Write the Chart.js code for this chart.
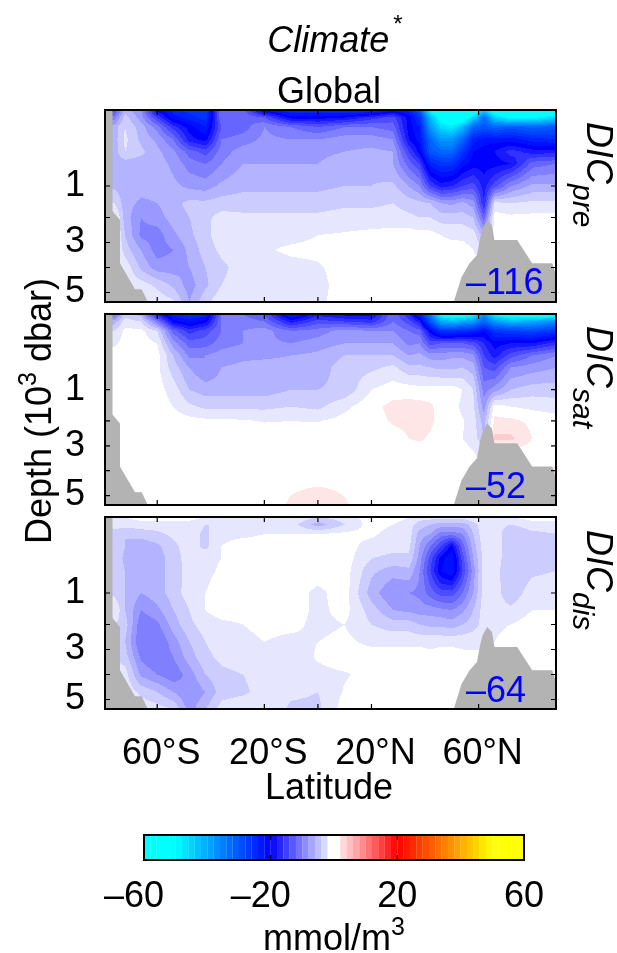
<!DOCTYPE html>
<html><head><meta charset="utf-8">
<script src="https://cdn.jsdelivr.net/npm/chart.js@4"></script>
<style>
html,body{margin:0;padding:0;background:#fff;width:617px;height:953px;overflow:hidden}
canvas{position:absolute;left:0;top:0}
.t{position:absolute;white-space:nowrap;font-family:"Liberation Sans",Arial,sans-serif;color:#000;line-height:1}
.t sup,.t sub{line-height:0}
</style></head><body>
<canvas id="c1" width="617" height="953"></canvas>
<canvas id="c2" width="617" height="953"></canvas>
<canvas id="c3" width="617" height="953"></canvas>
<canvas id="c4" width="617" height="953"></canvas>
<script>
const latitudes=[-76,-72,-66,-60,-54,-48,-42,-36,-28,-20,-10,0,10,20,28,34,38,42,46,50,54,58,62,66,72,80,89];
const depths=[0,.01,.05,.15,.3,.5,1,1.5,2,2.7,3.3,4,4.7,5.4];
const xTickLabels=[[-60,"60°S"],[-20,"20°S"],[20,"20°N"],[60,"60°N"]];
const xTickMarks=[-60,-20,0,20,60];
const depthTickLabels=[1,3,5];
const depthTickMarks=[1,2,3,4,5];
const dicPre=[
[-14,-6,-9,-20,-24,-26,-27,-11,-12,-22,-25,-25,-26,-26,-22,-24,-30,-50,-58,-60,-60,-58,-45,-55,-60,-60,-58],
[-10,-4,-8,-15,-22,-24,-26,-11,-11,-13,-20,-20,-19,-16,-14,-20,-26,-42,-52,-56,-55,-45,-32,-45,-50,-50,-45],
[-6,-3,-6,-10,-16,-20,-23,-13,-12,-9,-11,-13,-11,-11,-12,-20,-23,-38,-46,-48,-42,-32,-30,-32,-30,-32,-30],
[-6,-2.5,-5.5,-7.5,-11,-18,-20,-11,-10,-8.5,-9,-9,-8,-8,-9,-19,-22,-32,-38,-38,-32,-24,-22,-22,-22,-24,-25],
[-6,-3,-4.5,-6.5,-8.5,-12,-14,-10,-8,-8,-8,-7.5,-7,-6.5,-7,-15,-20,-30,-32,-32,-26,-21,-20,-19,-16,-18,-18],
[-6,-6,-6,-6,-7.5,-10,-11,-9,-7,-7,-7,-7,-6,-5.5,-7,-12,-15,-24,-26,-26,-22,-20,-20,-20,-19,-12,-11],
[-5.5,-6,-6,-6,-6.5,-7.5,-8,-6.5,-5.5,-5.5,-5.5,-5.5,-5,-5,-4.5,-7,-9,-15,-18,-17,-15,-14,-18,-14,-9,-6.5,-6.5],
[-3,-6,-7.5,-7,-5.5,-4.5,-4.5,-4,-4,-4,-4,-4,-3.5,-3.5,-3,-4,-4.5,-5,-7,-7.5,-6.5,-8,-17,-2.5,-3,-2.5,-2.5],
[0,-6,-9,-8,-6,-5,-3.5,-2.2,-2.5,-2.5,-2.5,-2.5,-2,-2,-2,-2.5,-3,-3,-4,-4,-4,-5,-12,0,-.5,-.4,-.4],
[0,-5,-9.5,-10,-7.5,-5.5,-3.5,-2,-2,-1.5,-1.5,-1,-.8,-.5,-.3,0,-.3,-.3,-1,-1.5,-1.5,-2,-6,0,0,0,0],
[0,-4,-7,-10,-9,-6.5,-4,-2.5,-2,-1.2,-.7,-.6,0,0,0,0,0,0,0,0,-.2,-1,-3,0,0,0,0],
[0,-1.5,-5.5,-8,-8,-7,-5,-3.5,-2,-1.8,-1.5,-1.2,-.3,0,0,0,0,0,0,0,0,0,0,0,0,0,0],
[0,-1.5,-2,-3.5,-5.5,-8,-5.5,-3,-2,-1.8,-1.5,-1.5,-.3,0,0,0,0,0,0,0,0,0,0,0,0,0,0],
[0,-1,-1.5,-1.5,-2.5,-7,-3.5,-1.5,-1,-1.3,-1.2,-1.5,0,0,0,0,0,0,0,0,0,0,0,0,0,0,0]];
const dicSat=[
[-12,-4,-6,-18,-24,-26,-24,-11,-11,-13,-24,-18,-20,-20,-11,-17,-24,-35,-52,-55,-55,-50,-36,-50,-55,-55,-55],
[-6,-2,-3,-10,-20,-22,-20,-11,-10,-11,-18,-14,-15,-16,-11,-14,-18,-30,-40,-42,-40,-38,-32,-38,-42,-40,-36],
[-3,-.5,-.5,-3,-12,-16,-14,-11,-9,-8,-11,-10,-8,-9,-9,-11,-12,-20,-26,-26,-25,-24,-21,-26,-27,-28,-26],
[-1.5,0,0,-1,-8,-12,-12,-10,-9,-8.5,-9,-8,-7,-7,-7,-9.5,-9,-14,-13,-13,-13,-14,-17,-20,-19,-19,-16],
[0,0,0,-.2,-5,-9.5,-9,-8,-7.5,-7.5,-7,-6.5,-5,-5,-5,-7,-6.5,-8,-8,-7.5,-7.5,-8.5,-15,-18,-14,-11,-9],
[0,0,0,-.5,-4,-7,-9,-7,-6.5,-6,-6,-6,-4,-3.5,-2.5,-4.5,-4.5,-5,-5.5,-5.5,-5,-6,-13,-14,-9,-8,-7],
[0,0,0,0,-2,-5,-6,-6,-6,-6,-5,-5,-4.5,-1,0,0,-.3,-.3,0,0,-1,-3,-10,-8,-5,-4,-4],
[0,0,0,0,-1,-2.5,-3.5,-3.5,-3.5,-3.5,-3,-3.5,-1.5,.4,1.6,1.8,1.8,1.4,0,0,-1.5,-2.5,-8,0,-1,-1.5,-2],
[0,0,0,0,0,-.3,-.5,-.5,-.8,-1.1,-1,-1.1,-.3,0,1.3,1.6,1.8,1.4,.2,0,-.8,-2,-6,1.5,1.5,.5,0],
[0,0,0,0,0,0,0,0,0,0,0,0,0,0,0,1,1.3,.7,0,0,-1,-1.8,-5,3.5,3.5,1,0],
[0,0,0,0,0,0,0,0,0,0,0,0,0,0,0,0,0,0,0,0,-.2,-.8,-2,0,0,0,0],
[0,0,0,0,0,0,0,0,0,0,0,0,0,0,0,0,0,0,0,0,0,0,0,0,0,0,1.5],
[0,0,0,0,0,0,0,0,0,0,.8,1.1,.8,0,0,0,0,0,0,0,0,0,0,0,0,0,0],
[0,0,0,0,0,0,0,0,0,0,1.3,2,1.2,0,0,0,0,0,0,0,0,0,0,0,0,0,0]];
const dicDis=[
[-1,-1,0,0,0,0,-1,-1,-1,-1,-1,-3,-2,0,0,-1,-2,-2,-2,-2,-2,-1,-1,-1,-1,0,0],
[-2,-2,-2,-2,-2,-2,-3,-3,-2,-2,-2,-6,-3,0,-1,-2,-4,-5,-6,-6,-6,-4,-1.5,-2,-3,-2,-2],
[-4,-5,-4,-3.5,-2.5,-2,-3.5,-1.5,-1.5,-1,-1,-1,-.5,-.5,-2,-2,-6,-7,-10,-10,-9,-5,-1.5,-1.5,-5,-3.5,-3],
[-3.5,-5,-6.5,-5.5,-3.5,-2,-3.5,-1,0,0,0,0,0,-2,-2.5,-2.5,-7,-11,-15,-20,-12,-6,-2,-1.5,-5,-3.5,-3.5],
[-3.5,-5.5,-7,-6,-4,-2,-1.5,-1,0,0,0,0,0,-3,-3.5,-3.5,-8,-14,-20,-23,-14,-7,-2,-1.5,-5,-4,-3.5],
[-3.5,-5,-7,-6,-4,-2.2,-1.5,-.7,0,0,0,0,0,-4.5,-6,-5.5,-9,-15,-21,-23,-15,-8,-2,-2,-5,-3.5,-3],
[-3.5,-5,-7,-6,-4,-2,-1,0,0,0,0,-1.5,0,-6,-9,-9,-9.5,-12,-14,-14,-11,-7,-2,-2,-4.5,-1.8,-1.5],
[-1,-5,-9,-7.5,-5,-3,-1,0,0,0,0,-1.5,-.3,-4,-7,-7.5,-8,-8,-8.5,-9,-7.5,-5,-2,-2,-2.5,-1,-1],
[-3,-4,-10.5,-9.5,-6,-3.5,-2,-1.5,-1,-.5,-.5,-1.5,-1,-3,-4,-4,-5,-5.5,-5.5,-6,-5,-4,-2,-1.5,-1,0,0],
[-3,-5,-11,-11,-8,-5,-3,-2,-1.5,-1,-1.5,-1,-.5,-1.5,-1.5,-1.5,-1.5,-1.5,-1.5,-1.5,-1.5,-1.5,-1.5,-1,0,0,0],
[-3,-4,-9.5,-11,-9,-6,-3.5,-2.5,-2,-1.5,-2,-.8,0,0,0,0,0,-.5,0,0,-.5,-.5,-.5,0,0,0,0],
[-2,-2,-7.5,-9,-10.5,-8,-5,-3.5,-3,-2,-2,-1.5,-1.2,-.3,0,0,0,0,0,0,0,0,0,0,0,0,0],
[-1.5,-1.5,-3.5,-5,-7,-9,-7,-4,-3.5,-2,-2.5,-3,-.8,0,0,0,0,0,0,0,0,0,0,0,0,0,0],
[-1,-1,-1.5,-2,-3,-8,-5,-2,-1,-1,-3.5,-3.5,0,0,0,0,0,0,0,0,0,0,0,0,0,0,0]];
const southFloorLat=[-79.5,-76.7,-76.7,-73.9,-73.9,-68.3,-65.8,-63.5];
const southFloorDepth=[0,0,1.77,2.1,3.83,4.87,4.87,5.38];
const northFloorLat=[50.7,53.6,56.5,59.4,60.6,61.5,63.2,65,65.9,74.4,80,87.5,88.9];
const northFloorDepth=[5.38,4.39,3.85,3.5,2.8,2.43,2.1,2.3,2.9,2.9,3.83,3.83,4.3];
const colorbarLevels=[-59,-57,-55,-53,-51,-49,-47,-45,-43,-41,-39,-37,-35,-33,-31,-29,-27,-25,-23,-21,-19,-17,-15,-13,-11,-9,-7,-5,-3,-1,1,3,5,7,9,11,13,15,17,19,21,23,25,27,29,31,33,35,37,39,41,43,45,47,49,51,53,55,57,59];
const colorbarFill=colorbarLevels.map(()=>1);
const colorbarTicks=[[-60,"–60\u00a0\u00a0"],[-20,"–20\u00a0\u00a0"],[20,"20"],[60,"60"]];
const colorbarMarks=[-20,20];

const FONT='"Liberation Sans",Arial,sans-serif';
const GREY='#b3b3b3';
function T(d){return d<=2?Math.sqrt(d):Math.SQRT2+.329*(d-2);}
function cmapRGB(v){
  if(Math.abs(v)<=1.2) return [255,255,255];
  if(v<=-50) return [0,255,255];
  if(v<=-20){return [0,Math.round(255*(-v-20)/30),255];}
  if(v<0){const c=Math.round(255*(1+v/20));return [c,c,255];}
  if(v<=20){const c=Math.round(255*(1-v/20));return [255,c,c];}
  if(v<50){return [255,Math.round(255*(v-20)/30),0];}
  return [255,255,0];
}
const heatPlugin={id:'heat',beforeDatasetsDraw(chart){
  const pts=chart.data.datasets[0].data,xs=chart.scales.x,ys=chart.scales.y,a=chart.chartArea;
  const nc=latitudes.length,nr=depths.length;
  const cp=latitudes.map(l=>xs.getPixelForValue(l)),rp=depths.map(d=>ys.getPixelForValue(T(d)));
  const W=Math.round(a.right-a.left),H=Math.round(a.bottom-a.top);
  const off=document.createElement('canvas');off.width=W;off.height=H;
  const g=off.getContext('2d'),im=g.createImageData(W,H);
  let ci=[],cf=[];
  for(let i=0;i<W;i++){const p=a.left+i+.5;let k=0;while(k<nc-2&&cp[k+1]<p)k++;
    ci[i]=k;cf[i]=Math.min(1,Math.max(0,(p-cp[k])/(cp[k+1]-cp[k])));}
  for(let j=0;j<H;j++){const p=a.top+j+.5;let r=0;while(r<nr-2&&rp[r+1]<p)r++;
    const rf=Math.min(1,Math.max(0,(p-rp[r])/(rp[r+1]-rp[r])));
    for(let i=0;i<W;i++){const k=ci[i],f=cf[i];
      const v=(1-rf)*((1-f)*pts[r*nc+k].v+f*pts[r*nc+k+1].v)+rf*((1-f)*pts[(r+1)*nc+k].v+f*pts[(r+1)*nc+k+1].v);
      const c=cmapRGB(Math.round(v/2)*2),o=(j*W+i)*4;
      im.data[o]=c[0];im.data[o+1]=c[1];im.data[o+2]=c[2];im.data[o+3]=255;}}
  g.putImageData(im,0,0);
  const ctx=chart.ctx;ctx.save();ctx.beginPath();ctx.rect(a.left,a.top,W,H);ctx.clip();
  ctx.filter='blur(0.7px)';ctx.drawImage(off,a.left,a.top);ctx.restore();
}};
const framePlugin={id:'frame',afterDraw(chart,args,o){
  const ctx=chart.ctx,a=chart.chartArea,xs=chart.scales.x,ys=chart.scales.y;
  ctx.save();ctx.strokeStyle='#000';ctx.lineWidth=2;
  ctx.strokeRect(a.left,a.top,a.right-a.left,a.bottom-a.top);
  ctx.lineWidth=1.2;ctx.beginPath();
  (o.xMarks||[]).forEach(v=>{const p=xs.getPixelForValue(v);ctx.moveTo(p,a.top);ctx.lineTo(p,a.top+5);ctx.moveTo(p,a.bottom);ctx.lineTo(p,a.bottom-5);});
  (o.yMarks||[]).forEach(d=>{const p=ys.getPixelForValue(T(d));ctx.moveTo(a.left,p);ctx.lineTo(a.left+5,p);ctx.moveTo(a.right,p);ctx.lineTo(a.right-5,p);});
  ctx.stroke();ctx.restore();
}};
function panel(id,values,top,bottom,showX){
  const grid=[];values.forEach((row,r)=>row.forEach((v,c)=>grid.push({x:latitudes[c],y:T(depths[r]),v})));
  const floor=(la,de)=>la.map((l,i)=>({x:l,y:T(de[i])}));
  const base={type:'line',showLine:true,pointRadius:0,borderWidth:0,borderColor:GREY,backgroundColor:GREY,fill:'start',tension:0};
  new Chart(document.getElementById(id),{type:'scatter',
    data:{datasets:[{label:'field',data:grid,pointRadius:0,showLine:false},
      {...base,label:'south floor',data:floor(southFloorLat,southFloorDepth)},
      {...base,label:'north floor',data:floor(northFloorLat,northFloorDepth)}]},
    options:{responsive:false,animation:false,events:[],
      layout:{padding:{left:0,right:61,top:top,bottom:showX?0:953-bottom}},
      plugins:{legend:{display:false},tooltip:{enabled:false},frame:{xMarks:xTickMarks,yMarks:depthTickMarks}},
      scales:{
        x:{type:'linear',min:-79.5,max:88.9,display:showX,grid:{display:false},border:{display:false},
          afterBuildTicks:s=>{s.ticks=xTickLabels.map(t=>({value:t[0]}));},
          afterFit:s=>{if(showX)s.height=953-bottom;},
          ticks:{autoSkip:false,maxRotation:0,labelOffset:4,color:'#000',padding:15,font:{family:FONT,size:36},
            callback:(v,i)=>xTickLabels[i]?xTickLabels[i][1]:''}},
        y:{type:'linear',reverse:true,min:0,max:2.526,grid:{display:false},border:{display:false},
          afterBuildTicks:s=>{s.ticks=depthTickLabels.map(d=>({value:T(d)}));},
          afterFit:s=>{s.width=105;},
          ticks:{autoSkip:false,color:'#000',padding:12,font:{family:FONT,size:36},
            callback:(v,i)=>String(depthTickLabels[i])}}
      }},
    plugins:[heatPlugin,framePlugin]});
}
panel('c1',dicPre,110,302,false);
panel('c2',dicSat,314,505,false);
panel('c3',dicDis,517,709,true);
new Chart(document.getElementById('c4'),{type:'bar',
  data:{datasets:[{data:colorbarLevels.map((l,i)=>({x:l,y:colorbarFill[i]})),
    backgroundColor:colorbarLevels.map(l=>{const c=cmapRGB(l);return `rgb(${c[0]},${c[1]},${c[2]})`;}),
    borderWidth:0,barPercentage:1,categoryPercentage:1.02}]},
  options:{responsive:false,animation:false,events:[],
    layout:{padding:{left:144,right:617-524,top:835,bottom:0}},
    plugins:{legend:{display:false},tooltip:{enabled:false},frame:{xMarks:colorbarMarks,yMarks:[]}},
    scales:{
      x:{type:'linear',min:-60,max:60,offset:false,grid:{display:false},border:{display:false},
        afterBuildTicks:s=>{s.ticks=colorbarTicks.map(t=>({value:t[0]}));},
        afterFit:s=>{s.height=953-860;},
        ticks:{autoSkip:false,maxRotation:0,color:'#000',padding:7,font:{family:FONT,size:36},
          callback:(v,i)=>colorbarTicks[i]?colorbarTicks[i][1]:''}},
      y:{min:0,max:1,display:false}
    }},
  plugins:[framePlugin]});
function text(html,size,x,base,extra){
  const d=document.createElement('div');d.className='t';d.innerHTML=html;
  d.style.fontSize=size+'px';d.style.left=x+'px';d.style.top=(base-.846*size)+'px';
  if(extra)d.style.cssText+=';'+extra;document.body.appendChild(d);return d;
}
function centered(html,size,cx,base){text(html,size,cx,base,'transform:translateX(-50%)');}
centered('<i>Climate</i><sup style="font-size:24px;position:relative;top:-7px;margin-left:4px">*</sup>',36,335,52);
centered('Global',36,329,103);
centered('Latitude',36,329,799);
centered('mmol/m<sup style="font-size:25px;position:relative;top:-2px">3</sup>',36,334,950);
[[294,'–116'],[498,'–52'],[702,'–64']].forEach(a=>text(a[1],36,466,a[0],'color:#0000ff'));
[['pre',122],['sat',326],['dis',530]].forEach(a=>{
  const d=document.createElement('div');d.className='t';
  d.innerHTML='<i>DIC<span style="font-size:30px;position:relative;top:14px">'+a[0]+'</span></i>';
  d.style.fontSize='36px';d.style.left='617px';d.style.top=a[1]+'px';
  d.style.transformOrigin='0 0';d.style.transform='rotate(90deg)';document.body.appendChild(d);
});
(function(){const d=document.createElement('div');d.className='t';
  d.innerHTML='Depth (10<sup style="font-size:25px;position:relative;top:-2px">3</sup> dbar)';
  d.style.fontSize='36px';d.style.left='21px';d.style.top='544px';
  d.style.transformOrigin='0 0';d.style.transform='rotate(-90deg)';document.body.appendChild(d);})();
</script>
</body></html>
